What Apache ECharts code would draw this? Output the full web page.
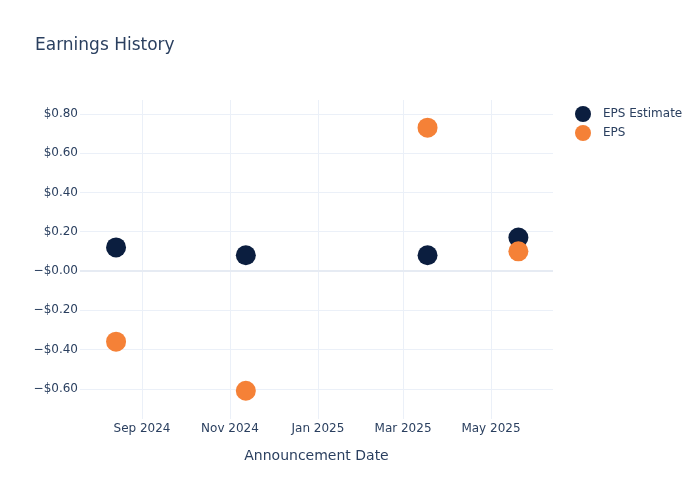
<!DOCTYPE html>
<html lang="en">
<head>
    <meta charset="UTF-8">
    <title>Earnings History</title>
    <script src="https://cdn.jsdelivr.net/npm/echarts@6/dist/echarts.min.js"></script>
    <style>
        html, body { margin: 0; padding: 0; background: #fff; }
        #chart { width: 700px; height: 500px; }
    </style>
</head>
<body>
    <div id="chart"></div>
<script>
    // announcement dates
    var dates = ['2024-08-14', '2024-11-12', '2025-03-18', '2025-05-20'];
    var epsEstimate = [0.12, 0.08, 0.08, 0.17];
    var epsActual = [-0.36, -0.61, 0.73, 0.10];
    // x tick positions (every two months)
    var xTicks = ['2024-09-01', '2024-11-01', '2025-01-01', '2025-03-01', '2025-05-01'];
    var yTicks = [-0.6, -0.4, -0.2, 0, 0.2, 0.4, 0.6, 0.8];
    var monthNames = ['Jan', 'Feb', 'Mar', 'Apr', 'May', 'Jun', 'Jul', 'Aug', 'Sep', 'Oct', 'Nov', 'Dec'];

    var textColor = '#2a3f5f';
    var gridColor = '#ebf0f8';

    function toTime(s) {
        return new Date(s + 'T00:00:00Z').getTime();
    }
    function pairs(vals) {
        return dates.map(function (d, i) { return [toTime(d), vals[i]]; });
    }
    var tickTimes = xTicks.map(toTime);

    var chart = echarts.init(document.getElementById('chart'), null, { renderer: 'canvas' });

    var option = {
        animation: false,
        backgroundColor: '#fff',
        textStyle: { fontFamily: 'DejaVu Sans' },
        title: {
            text: 'Earnings History',
            left: 30,
            top: 32,
            textStyle: { color: textColor, fontSize: 17, fontWeight: 'normal', fontFamily: 'DejaVu Sans' }
        },
        legend: {
            orient: 'vertical',
            left: 570,
            top: 101,
            itemWidth: 16,
            itemHeight: 16,
            itemGap: 3,
            icon: 'circle',
            textStyle: { color: textColor, fontSize: 12, padding: [0, 0, 0, 7] },
            data: ['EPS Estimate', 'EPS']
        },
        grid: { left: 80, right: 147, top: 100, bottom: 81 },
        xAxis: {
            type: 'value',
            min: toTime('2024-07-20'),
            max: toTime('2025-06-13'),
            name: 'Announcement Date',
            nameLocation: 'middle',
            nameGap: 30,
            nameTextStyle: { color: textColor, fontSize: 14 },
            axisLine: { show: false },
            axisTick: { show: false, customValues: tickTimes },
            axisLabel: {
                customValues: tickTimes,
                color: textColor,
                fontSize: 12,
                margin: 4,
                formatter: function (v) {
                    var d = new Date(v);
                    return monthNames[d.getUTCMonth()] + ' ' + d.getUTCFullYear();
                }
            },
            splitLine: { show: true, lineStyle: { color: gridColor, width: 1 } }
        },
        yAxis: {
            type: 'value',
            min: -0.754,
            max: 0.871,
            axisLine: { show: false },
            axisTick: { show: false, customValues: yTicks },
            axisLabel: {
                color: textColor,
                fontSize: 12,
                margin: 2,
                customValues: yTicks,
                formatter: function (v) {
                    var a = Math.abs(v).toFixed(2);
                    return (v <= 0 ? '\u2212$' : '$') + a;
                }
            },
            splitLine: { show: true, lineStyle: { color: gridColor, width: 1 } }
        },
        series: [
            {
                name: 'EPS Estimate',
                type: 'scatter',
                symbolSize: 20,
                itemStyle: { color: '#0b1e3f', opacity: 1 },
                data: pairs(epsEstimate),
                markLine: {
                    silent: true,
                    symbol: 'none',
                    label: { show: false },
                    lineStyle: { color: '#e6ebf3', width: 2, type: 'solid' },
                    data: [{ yAxis: 0 }],
                    z: 1
                }
            },
            {
                name: 'EPS',
                type: 'scatter',
                symbolSize: 20,
                itemStyle: { color: '#f58137', opacity: 1 },
                data: pairs(epsActual)
            }
        ]
    };
    chart.setOption(option);
</script>
</body>
</html>
